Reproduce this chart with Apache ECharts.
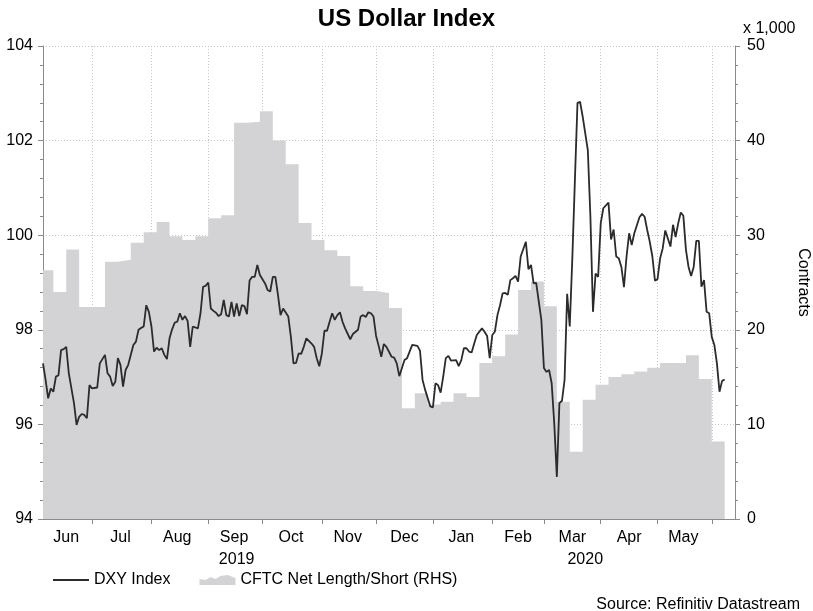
<!DOCTYPE html>
<html>
<head>
<meta charset="utf-8">
<script src="https://cdn.jsdelivr.net/npm/echarts@6/dist/echarts.min.js"></script>
<style>
  html, body { margin: 0; padding: 0; background: #fff; }
  #main { width: 813px; height: 611px; }
</style>
</head>
<body>
<div id="main"></div>
<script>
// DXY daily closes (weekdays)
var dxyDates = [
  '2019-06-04','2019-06-05','2019-06-06','2019-06-07','2019-06-10','2019-06-11','2019-06-12','2019-06-13','2019-06-14','2019-06-17',
  '2019-06-18','2019-06-20','2019-06-21','2019-06-24','2019-06-25','2019-06-26','2019-06-27','2019-06-28','2019-07-01','2019-07-03',
  '2019-07-04','2019-07-08','2019-07-09','2019-07-10','2019-07-11','2019-07-12','2019-07-15','2019-07-16','2019-07-17','2019-07-18',
  '2019-07-19','2019-07-23','2019-07-24','2019-07-25','2019-07-26','2019-07-29','2019-07-30','2019-07-31','2019-08-01','2019-08-02',
  '2019-08-05','2019-08-06','2019-08-07','2019-08-08','2019-08-09','2019-08-12','2019-08-13','2019-08-14','2019-08-15','2019-08-16',
  '2019-08-19','2019-08-20','2019-08-21','2019-08-22','2019-08-23','2019-08-27','2019-08-28','2019-08-29','2019-08-30','2019-09-02',
  '2019-09-03','2019-09-04','2019-09-05','2019-09-06','2019-09-09','2019-09-10','2019-09-11','2019-09-12','2019-09-13','2019-09-16',
  '2019-09-17','2019-09-18','2019-09-19','2019-09-20','2019-09-23','2019-09-24','2019-09-25','2019-09-26','2019-09-27','2019-09-30',
  '2019-10-02','2019-10-03','2019-10-04','2019-10-07','2019-10-08','2019-10-09','2019-10-10','2019-10-11','2019-10-15','2019-10-16',
  '2019-10-17','2019-10-18','2019-10-21','2019-10-22','2019-10-23','2019-10-24','2019-10-28','2019-10-29','2019-10-30','2019-10-31',
  '2019-11-01','2019-11-04','2019-11-05','2019-11-06','2019-11-07','2019-11-08','2019-11-11','2019-11-12','2019-11-13','2019-11-14',
  '2019-11-18','2019-11-19','2019-11-21','2019-11-22','2019-11-25','2019-11-26','2019-11-27','2019-11-28','2019-11-29','2019-12-02',
  '2019-12-03','2019-12-04','2019-12-05','2019-12-06','2019-12-10','2019-12-11','2019-12-12','2019-12-13','2019-12-17','2019-12-18',
  '2019-12-20','2019-12-24','2019-12-25','2019-12-26','2019-12-27','2019-12-31','2020-01-01','2020-01-02','2020-01-03','2020-01-06',
  '2020-01-07','2020-01-08','2020-01-09','2020-01-10','2020-01-14','2020-01-15','2020-01-16','2020-01-17','2020-01-20','2020-01-21',
  '2020-01-22','2020-01-23','2020-01-24','2020-01-28','2020-01-29','2020-01-30','2020-01-31','2020-02-03','2020-02-04','2020-02-05',
  '2020-02-06','2020-02-07','2020-02-10','2020-02-11','2020-02-12','2020-02-13','2020-02-14','2020-02-17','2020-02-18','2020-02-20',
  '2020-02-21','2020-02-24','2020-02-25','2020-02-26','2020-02-28','2020-03-02','2020-03-03','2020-03-04','2020-03-05','2020-03-06',
  '2020-03-09','2020-03-10','2020-03-11','2020-03-12','2020-03-13','2020-03-16','2020-03-17','2020-03-18','2020-03-19','2020-03-20',
  '2020-03-23','2020-03-25','2020-03-26','2020-03-27','2020-03-30','2020-03-31','2020-04-01','2020-04-02','2020-04-06','2020-04-07',
  '2020-04-08','2020-04-09','2020-04-10','2020-04-13','2020-04-14','2020-04-15','2020-04-16','2020-04-17','2020-04-20','2020-04-22',
  '2020-04-23','2020-04-24','2020-04-27','2020-04-28','2020-04-29','2020-04-30','2020-05-01','2020-05-04','2020-05-05','2020-05-06',
  '2020-05-07','2020-05-08','2020-05-11','2020-05-12','2020-05-13','2020-05-14','2020-05-15','2020-05-18','2020-05-19','2020-05-20',
  '2020-05-21','2020-05-22','2020-05-25','2020-05-26','2020-05-27','2020-05-28','2020-05-29','2020-06-01','2020-06-02','2020-06-03',
  '2020-06-04','2020-06-05','2020-06-08'
];
var dxyValues = [
  97.29, 96.94, 96.55, 96.76, 96.69, 97.01, 97.04, 97.57, 97.59, 97.64,
  97.08, 96.45, 95.99, 96.16, 96.22, 96.20, 96.13, 96.83, 96.76, 96.78,
  97.29, 97.47, 97.08, 97.01, 96.81, 96.90, 97.40, 97.26, 96.80, 97.15,
  97.26, 97.68, 97.75, 98.00, 98.04, 98.07, 98.52, 98.38, 98.07, 97.54,
  97.62, 97.57, 97.61, 97.47, 97.38, 97.82, 98.01, 98.15, 98.17, 98.35,
  98.21, 98.29, 98.19, 97.64, 98.07, 98.03, 98.35, 98.91, 98.93, 99.00,
  98.45, 98.40, 98.36, 98.29, 98.33, 98.63, 98.31, 98.28, 98.59, 98.28,
  98.56, 98.29, 98.52, 98.50, 98.33, 99.04, 99.12, 99.12, 99.37, 99.16,
  98.98, 98.84, 98.81, 99.12, 99.12, 98.74, 98.31, 98.45, 98.28, 97.85,
  97.29, 97.30, 97.50, 97.49, 97.64, 97.82, 97.71, 97.64, 97.40, 97.23,
  97.50, 97.98, 97.98, 98.17, 98.35, 98.21, 98.31, 98.37, 98.17, 98.03,
  97.80, 97.91, 98.00, 98.28, 98.31, 98.27, 98.37, 98.35, 98.28, 97.87,
  97.66, 97.43, 97.70, 97.64, 97.43, 97.41, 97.29, 97.02, 97.36, 97.40,
  97.68, 97.66, 97.56, 96.94, 96.73, 96.38, 96.36, 96.87, 96.83, 96.67,
  97.01, 97.40, 97.45, 97.35, 97.36, 97.23, 97.36, 97.61, 97.61, 97.54,
  97.52, 97.71, 97.89, 98.03, 97.96, 97.87, 97.40, 97.89, 97.96, 98.31,
  98.52, 98.77, 98.78, 98.74, 99.05, 99.09, 99.14, 99.02, 99.55, 99.86,
  99.28, 99.37, 98.98, 98.99, 98.21, 97.19, 97.11, 97.15, 96.87, 96.02,
  94.89, 96.45, 96.50, 96.94, 98.76, 98.07, 99.51, 101.17, 102.80, 102.82,
  102.51, 101.80, 100.39, 98.38, 99.19, 99.12, 100.25, 100.57, 100.69, 99.91,
  100.12, 99.55, 99.51, 99.33, 98.90, 99.55, 100.04, 99.79, 100.04, 100.38,
  100.45, 100.39, 100.11, 99.86, 99.55, 99.04, 99.07, 99.51, 99.72, 100.10,
  99.93, 99.76, 100.22, 99.96, 100.25, 100.48, 100.41, 99.69, 99.33, 99.14,
  99.33, 99.88, 99.88, 98.91, 99.05, 98.38, 98.35, 97.85, 97.68, 97.29,
  96.69, 96.92, 96.95
];

// CFTC weekly net position, thousands of contracts (RHS)
var cftcDates = [
  '2019-06-04','2019-06-10','2019-06-17','2019-06-24','2019-07-01','2019-07-08','2019-07-15','2019-07-22','2019-07-29','2019-08-05',
  '2019-08-12','2019-08-19','2019-08-26','2019-09-02','2019-09-09','2019-09-16','2019-09-23','2019-09-30','2019-10-07','2019-10-14',
  '2019-10-21','2019-10-28','2019-11-04','2019-11-11','2019-11-18','2019-11-25','2019-12-02','2019-12-09','2019-12-16','2019-12-23',
  '2019-12-30','2020-01-06','2020-01-13','2020-01-20','2020-01-27','2020-02-03','2020-02-10','2020-02-17','2020-02-24','2020-03-02',
  '2020-03-09','2020-03-16','2020-03-23','2020-03-30','2020-04-06','2020-04-13','2020-04-20','2020-04-27','2020-05-04','2020-05-11',
  '2020-05-18','2020-05-25','2020-06-01','2020-06-08'
];
var cftcValues = [
  26.3, 24.0, 28.5, 22.4, 22.4, 27.2, 27.4, 29.2, 30.3, 31.4,
  29.9, 29.5, 29.9, 31.8, 32.1, 41.9, 42.0, 43.1, 40.0, 37.5,
  31.3, 29.5, 28.4, 27.8, 24.6, 24.1, 23.9, 22.3, 11.7, 13.3,
  12.1, 12.4, 13.3, 12.9, 16.5, 17.2, 19.5, 24.2, 25.1, 22.5,
  12.4, 7.1, 12.6, 14.2, 15.0, 15.3, 15.6, 16.0, 16.5, 16.5,
  17.3, 14.8, 8.2, 8.2
];

// axis labels
var monthLabels = ['Jun', 'Jul', 'Aug', 'Sep', 'Oct', 'Nov', 'Dec', 'Jan', 'Feb', 'Mar', 'Apr', 'May'];
var monthLabelDates = ['2019-06-17', '2019-07-16', '2019-08-15', '2019-09-16', '2019-10-16', '2019-11-15',
  '2019-12-17', '2020-01-16', '2020-02-17', '2020-03-17', '2020-04-16', '2020-05-15'];
var yearLabels = ['2019', '2020'];
var yearLabelDates = ['2019-09-17', '2020-03-24'];

// weekday axis, like the Datastream original
var categories = [];
for (var t = Date.UTC(2019, 5, 4); t <= Date.UTC(2020, 5, 12); t += 86400000) {
  var wd = new Date(t).getUTCDay();
  if (wd !== 0 && wd !== 6) categories.push(new Date(t).toISOString().slice(0, 10));
}
function isMonthStart(i) {
  return i > 0 && categories[i].slice(5, 7) !== categories[i - 1].slice(5, 7);
}

var FONT = '"Liberation Sans", Arial, sans-serif';
var axisGrey = '#8a8a8a';
var gridGrey = '#c4c4c4';

var chartDom = document.getElementById('main');
var myChart = echarts.init(chartDom);
var option;

option = {
  animation: false,
  textStyle: { fontFamily: FONT },
  title: [
    {
      text: 'US Dollar Index',
      left: 'center',
      top: 2,
      textStyle: { fontSize: 24, fontWeight: 'bold', color: '#000', fontFamily: FONT }
    },
    {
      text: 'Source: Refinitiv Datastream',
      right: 8,
      top: 592,
      textStyle: { fontSize: 16, fontWeight: 'normal', color: '#000', fontFamily: FONT }
    }
  ],
  legend: {
    left: 48,
    top: 567,
    itemGap: 29,
    itemWidth: 36,
    itemHeight: 11,
    symbolKeepAspect: true,
    textStyle: { fontSize: 16, color: '#000', fontFamily: FONT },
    data: [
      {
        name: 'DXY Index',
        icon: 'path://M0,0 L36,0 L36,2 L0,2 Z',
        itemStyle: { color: '#2b2b2b' }
      },
      {
        name: 'CFTC Net Length/Short (RHS)',
        icon: 'path://M0,11 L0,5 L6,6 L11,3 L16,5 L21,2 L28,1 L36,4 L36,11 Z',
        itemStyle: { color: '#d3d3d5' }
      }
    ]
  },
  grid: { left: 43, right: 78, top: 46, bottom: 92, outerBoundsMode: 'none' },
  xAxis: {
    type: 'category',
    data: categories,
    boundaryGap: false,
    axisLine: { lineStyle: { color: axisGrey } },
    axisTick: {
      interval: function (i) { return isMonthStart(i); },
      length: 5,
      lineStyle: { color: axisGrey }
    },
    splitLine: {
      show: true,
      interval: function (i) { return isMonthStart(i); },
      lineStyle: { color: gridGrey, type: [1, 2] }
    },
    axisLabel: {
      interval: function (i, val) {
        return monthLabelDates.indexOf(val) >= 0 || yearLabelDates.indexOf(val) >= 0;
      },
      formatter: function (val) {
        var m = monthLabelDates.indexOf(val);
        if (m >= 0) return monthLabels[m];
        var y = yearLabelDates.indexOf(val);
        if (y >= 0) return '\n' + yearLabels[y];
        return '';
      },
      margin: 8,
      lineHeight: 22,
      fontSize: 16,
      color: '#000',
      fontFamily: FONT
    }
  },
  yAxis: [
    {
      type: 'value',
      min: 94,
      max: 104,
      interval: 2,
      axisLine: { show: true, lineStyle: { color: axisGrey } },
      axisTick: { show: true, length: 5, lineStyle: { color: axisGrey } },
      minorTick: { show: true, splitNumber: 5, length: 3, lineStyle: { color: axisGrey } },
      splitLine: { show: true, lineStyle: { color: gridGrey, type: [1, 2] } },
      axisLabel: { fontSize: 16, color: '#000', margin: 10, fontFamily: FONT }
    },
    {
      type: 'value',
      position: 'right',
      min: 0,
      max: 50,
      interval: 10,
      name: 'Contracts',
      nameLocation: 'middle',
      nameRotate: -90,
      nameGap: 60,
      nameTextStyle: { fontSize: 16, color: '#000', fontFamily: FONT },
      axisLine: { show: true, lineStyle: { color: axisGrey } },
      axisTick: { show: true, length: 5, lineStyle: { color: axisGrey } },
      minorTick: { show: true, splitNumber: 5, length: 3, lineStyle: { color: axisGrey } },
      splitLine: { show: false },
      axisLabel: { fontSize: 16, color: '#000', margin: 12, fontFamily: FONT }
    }
  ],
  graphic: [
    {
      type: 'text',
      left: 743,
      top: 21,
      style: { text: 'x 1,000', fill: '#000', font: '16px ' + FONT }
    }
  ],
  series: [
    {
      name: 'CFTC Net Length/Short (RHS)',
      type: 'line',
      yAxisIndex: 1,
      step: 'end',
      symbol: 'none',
      z: 1,
      itemStyle: { color: '#d3d3d5' },
      lineStyle: { width: 0, color: '#d3d3d5' },
      areaStyle: { color: '#d3d3d5', opacity: 1 },
      data: cftcDates.map(function (d, i) { return [d, cftcValues[i]]; })
    },
    {
      name: 'DXY Index',
      type: 'line',
      symbol: 'none',
      z: 3,
      itemStyle: { color: '#2b2b2b' },
      lineStyle: { width: 1.8, color: '#2b2b2b' },
      data: dxyDates.map(function (d, i) { return [d, dxyValues[i]]; })
    }
  ]
};

option && myChart.setOption(option);
</script>
</body>
</html>
